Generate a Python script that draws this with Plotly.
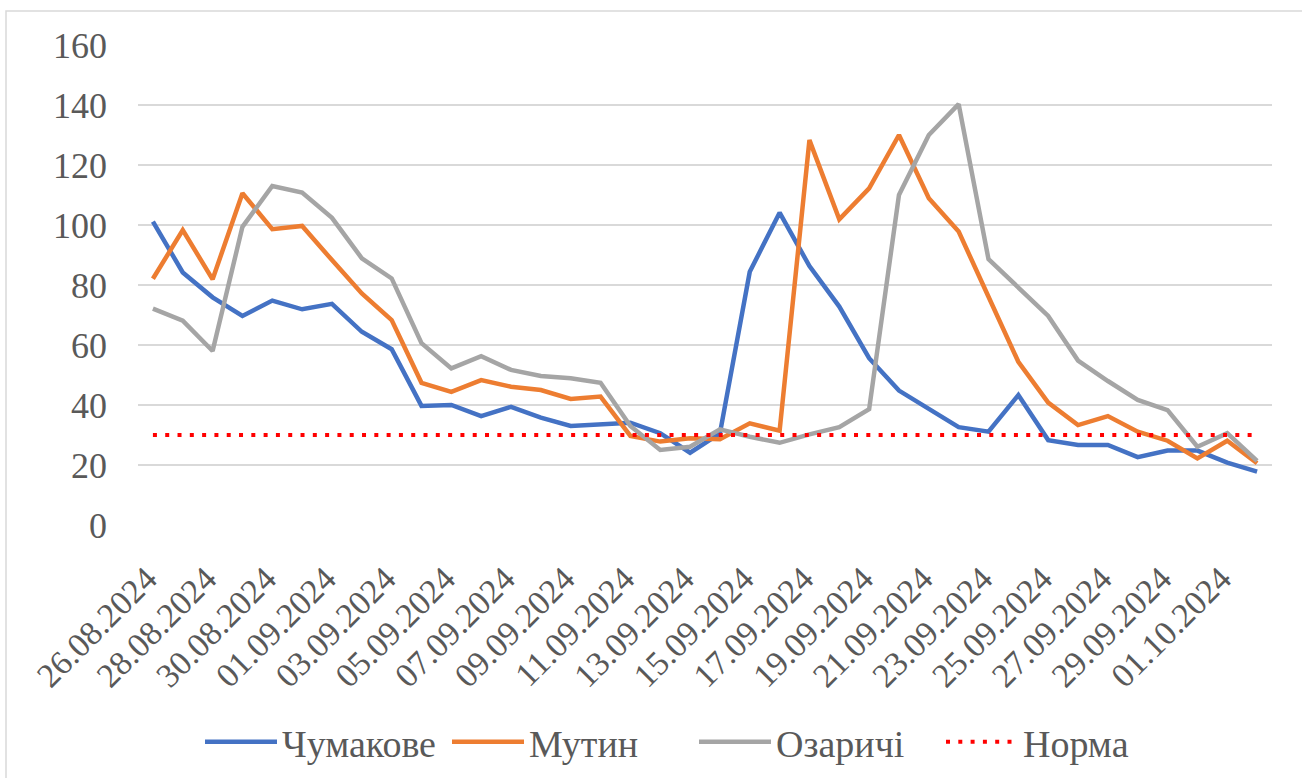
import plotly.graph_objects as go

dates = ["26.08.2024", "27.08.2024", "28.08.2024", "29.08.2024", "30.08.2024", "31.08.2024",
         "01.09.2024", "02.09.2024", "03.09.2024", "04.09.2024", "05.09.2024", "06.09.2024",
         "07.09.2024", "08.09.2024", "09.09.2024", "10.09.2024", "11.09.2024", "12.09.2024",
         "13.09.2024", "14.09.2024", "15.09.2024", "16.09.2024", "17.09.2024", "18.09.2024",
         "19.09.2024", "20.09.2024", "21.09.2024", "22.09.2024", "23.09.2024", "24.09.2024",
         "25.09.2024", "26.09.2024", "27.09.2024", "28.09.2024", "29.09.2024", "30.09.2024",
         "01.10.2024", "02.10.2024"]

chumakove = [101.1, 84.2, 75.9, 69.7, 74.8, 71.9, 73.7, 64.4, 58.6, 39.7, 40.0, 36.3, 39.4,
             35.8, 33.0, 33.7, 34.1, 30.6, 24.1, 30.5, 84.4, 104.1, 86.3, 72.8, 55.6, 44.8,
             38.6, 32.6, 31.1, 43.3, 28.3, 26.7, 26.7, 22.6, 24.8, 24.8, 20.8, 17.8]
mutyn = [82.1, 98.3, 81.9, 110.6, 98.6, 99.7, 88.3, 77.2, 68.3, 47.4, 44.4, 48.3, 46.1,
         45.0, 42.0, 42.8, 29.7, 27.8, 28.9, 28.6, 33.9, 31.4, 128.3, 101.9, 112.2, 130.0,
         108.9, 97.8, 76.1, 54.4, 40.8, 33.3, 36.3, 31.1, 28.1, 22.2, 28.1, 20.6]
ozarychi = [72.1, 68.1, 58.0, 99.4, 113.0, 110.8, 102.4, 88.9, 82.2, 60.6, 52.2, 56.3, 51.7,
            49.7, 48.9, 47.4, 33.0, 25.0, 26.1, 31.9, 29.4, 27.4, 30.2, 32.6, 38.6, 110.0,
            130.0, 140.3, 88.6, 78.9, 69.7, 54.8, 48.0, 41.7, 38.3, 26.1, 30.6, 21.4]
norma_value = 30
norma = [norma_value] * len(dates)

tick_labels = dates[::2]

FONT = "Liberation Serif"
TXT = "#595959"

fig = go.Figure()
fig.add_trace(go.Scatter(x=dates, y=chumakove, mode="lines", name="Чумакове",
                         line=dict(color="#4472C4", width=4.5)))
fig.add_trace(go.Scatter(x=dates, y=mutyn, mode="lines", name="Мутин",
                         line=dict(color="#ED7D31", width=4.5)))
fig.add_trace(go.Scatter(x=dates, y=ozarychi, mode="lines", name="Озаричі",
                         line=dict(color="#A5A5A5", width=4.5)))
fig.add_trace(go.Scatter(x=dates, y=norma, mode="lines", name="Норма",
                         line=dict(color="#FF0000", width=4, dash="4px,8.3px")))

L, R, T, B = 138, 30, 45, 253
W, H = 1302, 778
pw, ph = W - L - R, H - T - B

fig.update_layout(
    width=W, height=H,
    margin=dict(l=L, r=R, t=T, b=B, autoexpand=False),
    paper_bgcolor="white", plot_bgcolor="white",
    font=dict(family=FONT, color=TXT),
    showlegend=True,
    legend=dict(orientation="h", x=(200 - L) / pw, xanchor="left",
                y=-(742 - (H - B)) / ph, yanchor="middle",
                font=dict(size=38, family=FONT, color=TXT),
                itemwidth=72, tracegroupgap=0,
                entrywidth=160, entrywidthmode="pixels"),
    xaxis=dict(type="category", range=[-0.5, len(dates) - 0.5],
               tickmode="array", tickvals=tick_labels, ticktext=tick_labels,
               tickangle=-45, tickfont=dict(size=34, family=FONT, color=TXT),
               showgrid=False, showline=False, zeroline=False, ticks="",
               ticklabelstandoff=26, ticklabelshift=-6),
    yaxis=dict(range=[0, 160], dtick=20, tick0=0,
               tickfont=dict(size=36, family=FONT, color=TXT),
               showgrid=True, gridcolor="#D9D9D9", gridwidth=1.5,
               zeroline=False, showline=False, ticks="", ticklabelstandoff=30),
    shapes=[dict(type="rect", xref="paper", yref="paper",
                 x0=(6 - L) / pw, x1=(1310 - L) / pw,
                 y0=-(790 - (H - B)) / ph, y1=1 + (T - 11) / ph,
                 line=dict(color="#D9D9D9", width=1.5), fillcolor="rgba(0,0,0,0)",
                 layer="below")],
)

fig.write_html("out.html", config={"displayModeBar": False},
               post_script="document.body.style.margin='0';document.body.style.overflow='hidden';")
